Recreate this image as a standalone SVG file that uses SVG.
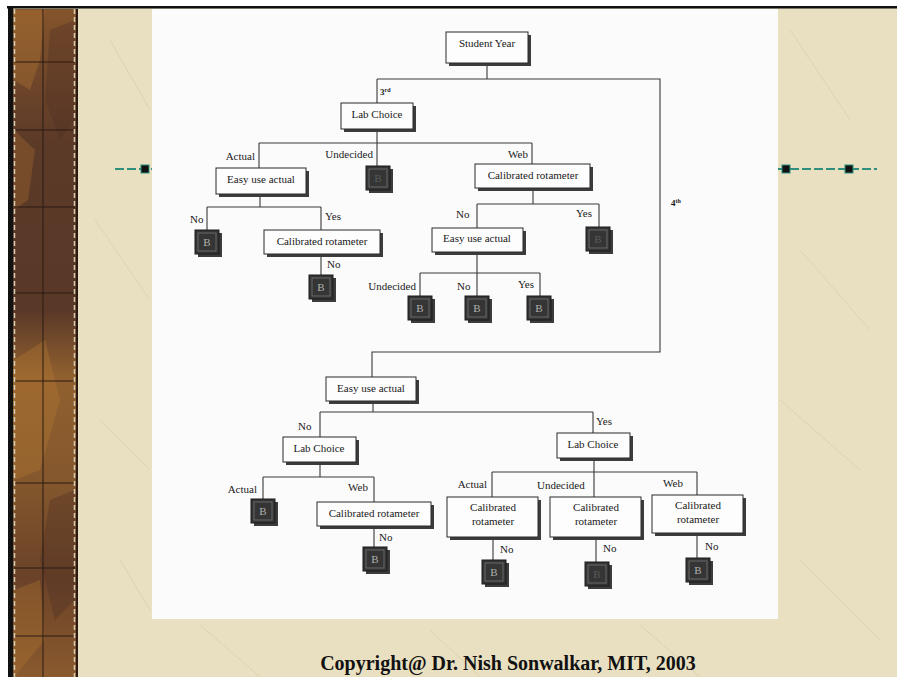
<svg xmlns="http://www.w3.org/2000/svg" width="897" height="677" viewBox="0 0 897 677">
<defs>
<style>
.t{font-family:"Liberation Serif","Times New Roman",serif;font-size:11px;fill:#1a1a1a}
.c{text-anchor:middle}
.box{fill:#fdfdfd;stroke:#2a2a2a;stroke-width:1}
.sh{fill:#3c3c3c}
.conn{fill:none;stroke:#3a3a3a;stroke-width:1.1}
.bq{fill:#353535;stroke:#1a1a1a;stroke-width:1}
.bi{fill:none;stroke:#777;stroke-width:0.8}
.bt{font-family:"Liberation Serif",serif;font-size:11px;fill:#b0b0b0;text-anchor:middle}
.bd{font-family:"Liberation Serif",serif;font-size:11px;fill:#5a5a5a;text-anchor:middle}
.teal{stroke:#2f8f7f;stroke-width:2;stroke-dasharray:9 3}
.tex{stroke:#ddd3b2;stroke-width:1;fill:none}
</style>
<linearGradient id="strip" x1="0" y1="0" x2="0" y2="1">
<stop offset="0" stop-color="#84542c"/>
<stop offset="0.2" stop-color="#5c3a28"/>
<stop offset="0.45" stop-color="#5a3828"/>
<stop offset="0.55" stop-color="#90602e"/>
<stop offset="0.7" stop-color="#85582d"/>
<stop offset="0.85" stop-color="#6a4228"/>
<stop offset="1" stop-color="#8a5a2e"/>
</linearGradient>
</defs>

<!-- background -->
<rect x="0" y="0" width="897" height="677" fill="#ffffff"/>
<rect x="8" y="7" width="889" height="670" fill="#e9e0c2"/>
<g class="tex">
<path d="M110 40 L150 110 M95 220 L150 300 M100 420 L150 470 M120 560 L150 610 M790 30 L850 120 M800 250 L870 330 M780 400 L860 470 M800 560 L880 640 M200 625 L260 677 M430 630 L480 677 M640 625 L700 677"/>
</g>
<rect x="7" y="6" width="890" height="2.5" fill="#111"/>
<rect x="8" y="7" width="5" height="670" fill="#111"/>

<!-- left strip -->
<rect x="13" y="9" width="64" height="668" fill="url(#strip)"/>
<g opacity="0.35">
<path d="M14 10 H45 L40 60 L30 90 L14 80 Z" fill="#b77a34"/>
<path d="M14 130 L35 150 L28 200 L14 210 Z" fill="#a86f30"/>
<path d="M50 30 L75 20 V120 L60 140 L45 100 Z" fill="#4e2f24"/>
<path d="M14 360 L45 340 L60 400 L40 470 L14 480 Z" fill="#b77a34"/>
<path d="M50 500 L75 490 V600 L55 620 L40 560 Z" fill="#4e2f24"/>
<path d="M14 590 L40 580 L45 640 L14 677 Z" fill="#b07530"/>
</g>
<g stroke="#2a1a12" stroke-width="1">
<line x1="43" y1="9" x2="43" y2="677"/>
<line x1="14" y1="62" x2="75" y2="62"/>
<line x1="14" y1="130" x2="75" y2="130"/>
<line x1="14" y1="207" x2="75" y2="207"/>
<line x1="14" y1="293" x2="75" y2="293"/>
<line x1="14" y1="381" x2="75" y2="381"/>
<line x1="14" y1="483" x2="75" y2="483"/>
<line x1="14" y1="568" x2="75" y2="568"/>
<line x1="14" y1="636" x2="75" y2="636"/>
</g>
<line x1="14.5" y1="9" x2="14.5" y2="677" stroke="#d8ccb0" stroke-width="1.5" stroke-dasharray="5 3"/>
<line x1="74.5" y1="9" x2="74.5" y2="677" stroke="#d8ccb0" stroke-width="1.5" stroke-dasharray="5 3"/>
<rect x="76" y="9" width="2" height="668" fill="#2a1a12"/>

<!-- teal decorative lines -->
<line class="teal" x1="115" y1="169" x2="152" y2="169"/>
<rect x="141" y="165" width="8" height="8" fill="#111" stroke="#2f8f7f"/>
<line class="teal" x1="778" y1="169" x2="877" y2="169"/>
<rect x="782" y="165" width="8" height="8" fill="#111" stroke="#2f8f7f"/>
<rect x="845" y="165" width="8" height="8" fill="#111" stroke="#2f8f7f"/>

<!-- white paper -->
<rect x="152" y="9" width="626" height="610" fill="#fbfbfb"/>

<!-- connectors -->
<g id="connectors" class="conn">
<path d="M487 63 V79 M377 79 H660 V352 H372 V377 M377 79 V103"/>
<path d="M377 129 V143 M259 143 H532 M259 143 V168 M377 143 V167 M532 143 V164"/>
<path d="M260 194 V207 M207 207 H321 M207 207 V231 M321 207 V230 M321 254 V276"/>
<path d="M533 188 V204 M477 204 H599 M599 204 V228 M477 204 V228 M477 252 V273 M420 273 H540 M420 273 V297 M477 273 V297 M540 273 V297"/>
<path d="M373 401 V412 M320 412 H593 M320 412 V437 M593 412 V433"/>
<path d="M320 462 V477 M263 477 H374 M263 477 V500 M374 477 V502 M374 526 V548"/>
<path d="M594 458 V472 M492 472 H697 M492 472 V497 M594 472 V497 M697 472 V495"/>
<path d="M493 537 V561 M596 537 V563 M697 533 V559"/>
</g>

<!-- edge labels -->
<g id="edge-labels" class="t">
<text x="380" y="95" style="font-weight:bold;font-size:9px">3<tspan style="font-size:6px" dy="-3">rd</tspan></text>
<text x="671" y="206" style="font-weight:bold;font-size:9px">4<tspan style="font-size:6px" dy="-3">th</tspan></text>
<text x="255" y="160" text-anchor="end">Actual</text>
<text x="373" y="158" text-anchor="end">Undecided</text>
<text x="508" y="158">Web</text>
<text x="190" y="223">No</text>
<text x="325" y="220">Yes</text>
<text x="327" y="268">No</text>
<text x="456" y="218">No</text>
<text x="576" y="217">Yes</text>
<text x="416" y="290" text-anchor="end">Undecided</text>
<text x="457" y="290">No</text>
<text x="518" y="288">Yes</text>
<text x="298" y="430">No</text>
<text x="596" y="425">Yes</text>
<text x="257" y="493" text-anchor="end">Actual</text>
<text x="348" y="491">Web</text>
<text x="379" y="541">No</text>
<text x="487" y="488" text-anchor="end">Actual</text>
<text x="537" y="489">Undecided</text>
<text x="663" y="487">Web</text>
<text x="500" y="553">No</text>
<text x="603" y="552">No</text>
<text x="705" y="550">No</text>
</g>

<!-- decision nodes -->
<g id="student-year"><rect class="sh" x="449" y="35" width="82" height="31"/><rect class="box" x="446" y="32" width="82" height="31"/><text class="t c" x="487" y="47">Student Year</text></g>
<g id="lab-choice-3rd"><rect class="sh" x="344" y="106" width="72" height="26"/><rect class="box" x="341" y="103" width="72" height="26"/><text class="t c" x="377" y="118">Lab Choice</text></g>
<g id="easy-use-actual-1"><rect class="sh" x="219" y="171" width="90" height="26"/><rect class="box" x="216" y="168" width="90" height="26"/><text class="t c" x="261" y="183">Easy use actual</text></g>
<g id="calibrated-rotameter-web"><rect class="sh" x="478" y="167" width="115" height="24"/><rect class="box" x="475" y="164" width="115" height="24"/><text class="t c" x="533" y="179">Calibrated rotameter</text></g>
<g id="calibrated-rotameter-actual"><rect class="sh" x="267" y="233" width="116" height="24"/><rect class="box" x="264" y="230" width="116" height="24"/><text class="t c" x="322" y="245">Calibrated rotameter</text></g>
<g id="easy-use-actual-2"><rect class="sh" x="435" y="231" width="91" height="24"/><rect class="box" x="432" y="228" width="91" height="24"/><text class="t c" x="477" y="242">Easy use actual</text></g>
<g id="easy-use-actual-4th"><rect class="sh" x="329" y="380" width="90" height="24"/><rect class="box" x="326" y="377" width="90" height="24"/><text class="t c" x="371" y="392">Easy use actual</text></g>
<g id="lab-choice-no"><rect class="sh" x="286" y="440" width="73" height="25"/><rect class="box" x="283" y="437" width="73" height="25"/><text class="t c" x="319" y="452">Lab Choice</text></g>
<g id="lab-choice-yes"><rect class="sh" x="560" y="436" width="73" height="25"/><rect class="box" x="557" y="433" width="73" height="25"/><text class="t c" x="593" y="448">Lab Choice</text></g>
<g id="calibrated-rotameter-bl"><rect class="sh" x="320" y="505" width="114" height="24"/><rect class="box" x="317" y="502" width="114" height="24"/><text class="t c" x="374" y="517">Calibrated rotameter</text></g>
<g id="cal-rot-actual"><rect class="sh" x="450" y="500" width="91" height="40"/><rect class="box" x="447" y="497" width="91" height="40"/><text class="t c" x="493" y="511">Calibrated</text><text class="t c" x="493" y="525">rotameter</text></g>
<g id="cal-rot-undecided"><rect class="sh" x="553" y="500" width="91" height="40"/><rect class="box" x="550" y="497" width="91" height="40"/><text class="t c" x="596" y="511">Calibrated</text><text class="t c" x="596" y="525">rotameter</text></g>
<g id="cal-rot-web"><rect class="sh" x="655" y="498" width="91" height="38"/><rect class="box" x="652" y="495" width="91" height="38"/><text class="t c" x="698" y="509">Calibrated</text><text class="t c" x="698" y="523">rotameter</text></g>

<!-- leaf B squares -->
<g id="leaf-1"><rect class="sh" x="369" y="169" width="24" height="24"/><rect class="bq" x="366" y="166" width="24" height="24"/><rect class="bi" x="369" y="169" width="18" height="18"/><text class="bd" x="378" y="182">B</text></g>
<g id="leaf-2"><rect class="sh" x="198" y="233" width="24" height="24"/><rect class="bq" x="195" y="230" width="24" height="24"/><rect class="bi" x="198" y="233" width="18" height="18"/><text class="bt" x="207" y="246">B</text></g>
<g id="leaf-3"><rect class="sh" x="312" y="278" width="24" height="24"/><rect class="bq" x="309" y="275" width="24" height="24"/><rect class="bi" x="312" y="278" width="18" height="18"/><text class="bt" x="321" y="291">B</text></g>
<g id="leaf-4"><rect class="sh" x="589" y="230" width="24" height="24"/><rect class="bq" x="586" y="227" width="24" height="24"/><rect class="bi" x="589" y="230" width="18" height="18"/><text class="bd" x="598" y="243">B</text></g>
<g id="leaf-5"><rect class="sh" x="411" y="299" width="24" height="24"/><rect class="bq" x="408" y="296" width="24" height="24"/><rect class="bi" x="411" y="299" width="18" height="18"/><text class="bt" x="420" y="312">B</text></g>
<g id="leaf-6"><rect class="sh" x="468" y="299" width="24" height="24"/><rect class="bq" x="465" y="296" width="24" height="24"/><rect class="bi" x="468" y="299" width="18" height="18"/><text class="bt" x="477" y="312">B</text></g>
<g id="leaf-7"><rect class="sh" x="530" y="299" width="24" height="24"/><rect class="bq" x="527" y="296" width="24" height="24"/><rect class="bi" x="530" y="299" width="18" height="18"/><text class="bt" x="539" y="312">B</text></g>
<g id="leaf-8"><rect class="sh" x="254" y="502" width="24" height="24"/><rect class="bq" x="251" y="499" width="24" height="24"/><rect class="bi" x="254" y="502" width="18" height="18"/><text class="bt" x="263" y="515">B</text></g>
<g id="leaf-9"><rect class="sh" x="366" y="550" width="24" height="24"/><rect class="bq" x="363" y="547" width="24" height="24"/><rect class="bi" x="366" y="550" width="18" height="18"/><text class="bt" x="375" y="563">B</text></g>
<g id="leaf-10"><rect class="sh" x="485" y="563" width="24" height="24"/><rect class="bq" x="482" y="560" width="24" height="24"/><rect class="bi" x="485" y="563" width="18" height="18"/><text class="bt" x="494" y="576">B</text></g>
<g id="leaf-11"><rect class="sh" x="588" y="565" width="24" height="24"/><rect class="bq" x="585" y="562" width="24" height="24"/><rect class="bi" x="588" y="565" width="18" height="18"/><text class="bd" x="597" y="578">B</text></g>
<g id="leaf-12"><rect class="sh" x="689" y="561" width="24" height="24"/><rect class="bq" x="686" y="558" width="24" height="24"/><rect class="bi" x="689" y="561" width="18" height="18"/><text class="bt" x="698" y="574">B</text></g>

<!-- footer -->
<text x="508" y="670" text-anchor="middle" style="font-family:'Liberation Serif','Times New Roman',serif;font-size:20px;font-weight:bold;fill:#111">Copyright@ Dr. Nish Sonwalkar, MIT, 2003</text>
</svg>
